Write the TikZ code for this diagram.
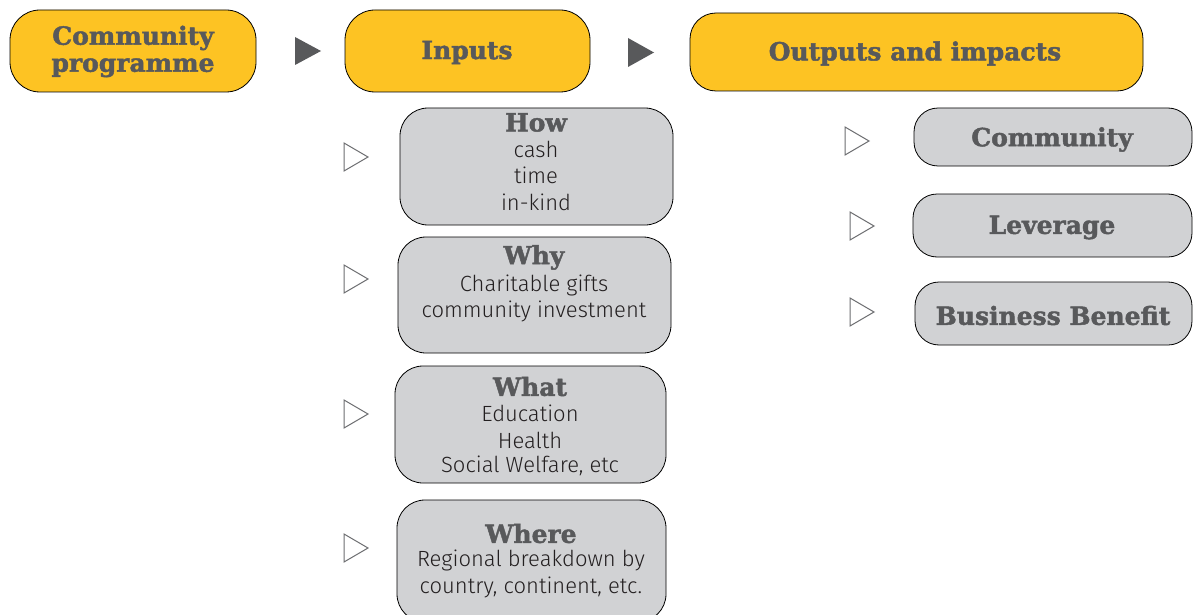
\documentclass[tikz,border=0pt]{standalone}
\usepackage{fontspec}
\setmainfont{Fira Sans Light}
\newfontfamily\headfont{DejaVu Serif Bold}[FakeBold=1.8]
\usetikzlibrary{positioning}
\definecolor{boxyellow}{HTML}{FDC323}
\definecolor{boxgray}{HTML}{D1D2D4}
\definecolor{headgray}{HTML}{58595B}
\definecolor{bodyink}{HTML}{231F20}
\definecolor{tripen}{HTML}{6D6E71}
\tikzset{
  ybox/.style={draw=black, line width=0.8pt, fill=boxyellow, rounded corners=30pt, inner sep=0pt},
  gbox/.style={draw=black, line width=0.8pt, fill=boxgray, rounded corners=28pt, inner sep=0pt},
  head/.style={font=\headfont\fontsize{25}{27}\selectfont, text=headgray, inner sep=0pt, align=center, yshift=-1.5pt},
  body/.style={font=\fontsize{22}{22}\selectfont, text=bodyink, inner sep=0pt},
  solidtri/.style={fill=headgray, draw=none},
  opentri/.style={draw=tripen, line width=1pt, fill=white, line join=miter}
}
\newcommand{\boxat}[6]{% style, name, x1, y1, x2, y2
  \node[#1, minimum width={(#5)-(#3)}, minimum height={(#6)-(#4)}] (#2) at ({((#3)+(#5))/2},{((#4)+(#6))/2}) {};}
\begin{document}
\begin{tikzpicture}[x=1pt,y=-1pt]
\fill[white] (0,0) rectangle (1193,615);
\useasboundingbox (0,0) rectangle (1193,615);

% top row
\boxat{ybox}{prog}{10}{10}{256}{92}
\boxat{ybox}{inputs}{345}{10}{590}{92}
\boxat{ybox, rounded corners=26pt}{outputs}{690}{13}{1143}{91}
\node[head] (progT) at (133,50) {Community\\programme};
\node[head] (inputsT) at (467,51) {Inputs};
\node[head] (outputsT) at (915,52) {Outputs and impacts};

\fill[solidtri] (295,37) -- (321,51) -- (295,65) -- cycle;
\fill[solidtri] (628,38) -- (654,52.5) -- (628,67) -- cycle;

% inputs column
\boxat{gbox}{how}{400}{108}{673}{225}
\boxat{gbox}{why}{398}{237}{671}{353}
\boxat{gbox}{what}{395}{366}{666}{483}
\boxat{gbox}{where}{397}{500}{666}{622}

\node[head] (howH) at (536,121) {How};
\node[body] (howA) at (536,149) {cash};
\node[body] (howB) at (536,175) {time};
\node[body] (howC) at (536,202) {in-kind};

\node[head] (whyH) at (534,256) {Why};
\node[body] (whyA) at (534,285) {Charitable gifts};
\node[body] (whyB) at (534,311) {community investment};

\node[head] (whatH) at (530,385) {What};
\node[body] (whatA) at (530,413) {Education};
\node[body] (whatB) at (530,440) {Health};
\node[body] (whatC) at (530,466) {Social Welfare, etc};

\node[head] (whereH) at (531,532) {Where};
\node[body] (whereA) at (531,560) {Regional breakdown by};
\node[body] (whereB) at (531,587) {country, continent, etc.};

\draw[opentri] (344,143) -- (368,157) -- (344,171) -- cycle;
\draw[opentri] (344,265) -- (368,279) -- (344,293) -- cycle;
\draw[opentri] (344,400) -- (368,414) -- (344,428) -- cycle;
\draw[opentri] (344,534) -- (368,548) -- (344,562) -- cycle;

% outputs column
\boxat{gbox, rounded corners=24pt}{community}{914}{108}{1192}{166}
\boxat{gbox, rounded corners=24pt}{leverage}{913}{194}{1192}{257}
\boxat{gbox, rounded corners=24pt}{benefit}{915}{282}{1192}{345}
\node[head] (communityT) at (1052,138) {Community};
\node[head] (leverageT) at (1052,226) {Leverage};
\node[head] (benefitT) at (1053,314) {Business Benefit};

\draw[opentri] (845,127) -- (869,141) -- (845,155) -- cycle;
\draw[opentri] (850,212) -- (874,226) -- (850,240) -- cycle;
\draw[opentri] (850,298) -- (874,312) -- (850,326) -- cycle;
\end{tikzpicture}
\end{document}
